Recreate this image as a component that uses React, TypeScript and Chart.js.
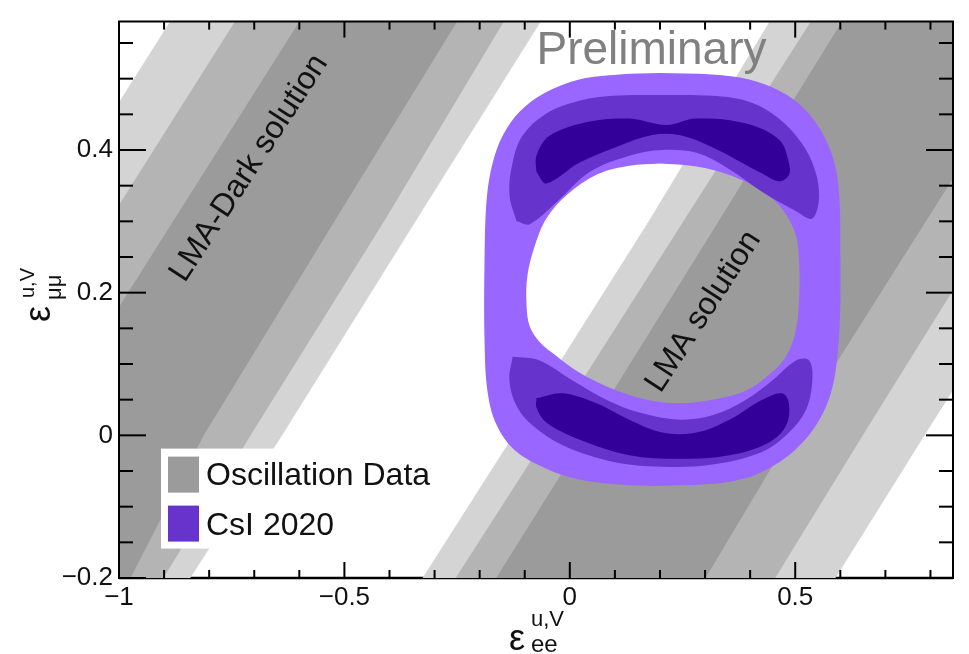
import React, { useEffect, useRef } from "react";
import { Chart, registerables } from "chart.js";

Chart.register(...registerables);

const FONT = "'Liberation Sans', Arial, Helvetica, sans-serif";

// ---------- axes ----------
const xMin = -1;
const xMax = 0.85;
const yMin = -0.2;
const yMax = 0.58;
const xMajorTicks = [-1, -0.5, 0, 0.5];
const xTickLabels = ["\u22121", "\u22120.5", "0", "0.5"];
const xMinorTicks = [-0.9, -0.8, -0.7, -0.6, -0.4, -0.3, -0.2, -0.1, 0.1, 0.2, 0.3, 0.4, 0.6, 0.7, 0.8];
const yMajorTicks = [-0.2, 0, 0.2, 0.4];
const yTickLabels = ["\u22120.2", "0", "0.2", "0.4"];
const yMinorTicks = [-0.15, -0.1, -0.05, 0.05, 0.1, 0.15, 0.25, 0.3, 0.35, 0.45, 0.5, 0.55];

// ---------- oscillation data: band edges [eps_ee, eps_mumu], bottom -> top ----------
// LMA-Dark solution
const darkOuterL = [[-1.717, -0.25], [-1.467, 0], [-1.167, 0.3], [-0.817, 0.65]];
const darkMidL = [[-1.573, -0.25], [-1.323, 0], [-1.023, 0.3], [-0.673, 0.65]];
const darkInnerL = [[-1.43, -0.25], [-1.18, 0], [-0.88, 0.3], [-0.53, 0.65]];
const darkInnerR = [[-1.015, -0.25], [-0.812, 0], [-0.522, 0.3], [-0.182, 0.65]];
const darkMidR = [[-0.95, -0.25], [-0.708, 0], [-0.412, 0.3], [-0.08, 0.65]];
const darkOuterR = [[-0.893, -0.25], [-0.638, 0], [-0.342, 0.3], [0.005, 0.65]];
// LMA solution
const lmaOuterL = [[-0.377, -0.25], [-0.125, 0], [0.175, 0.3], [0.51, 0.65]];
const lmaMidL = [[-0.304, -0.25], [-0.05, 0], [0.252, 0.3], [0.605, 0.65]];
const lmaInnerL = [[-0.213, -0.25], [0.035, 0], [0.33, 0.3], [0.672, 0.65]];
const lmaInnerR = [[0.254, -0.25], [0.49, 0], [0.79, 0.3], [1.14, 0.65]];
const lmaMidR = [[0.407, -0.25], [0.65, 0], [0.945, 0.3], [1.295, 0.65]];
const lmaOuterR = [[0.54, -0.25], [0.787, 0], [1.086, 0.3], [1.436, 0.65]];

// ---------- CsI 2020 contours ----------
const csiOuterEdge = [
  [0.199, 0.508], [0.316, 0.506], [0.398, 0.499], [0.465, 0.483], [0.52, 0.458], [0.56, 0.424],
  [0.587, 0.382], [0.598, 0.334], [0.6, 0.265], [0.6, 0.183], [0.595, 0.121], [0.582, 0.066],
  [0.553, 0.021], [0.502, -0.019], [0.427, -0.051], [0.354, -0.065], [0.243, -0.07], [0.132, -0.07],
  [0.021, -0.062], [-0.052, -0.047], [-0.122, -0.021], [-0.162, 0.014], [-0.182, 0.059], [-0.189, 0.128],
  [-0.189, 0.252], [-0.184, 0.334], [-0.171, 0.382], [-0.149, 0.42], [-0.111, 0.454], [-0.056, 0.48],
  [0.021, 0.499], [0.11, 0.506],
];
const csiHoleEdge = [
  [0.199, 0.381], [0.132, 0.378], [0.061, 0.366], [-0.005, 0.338], [-0.052, 0.304], [-0.078, 0.265],
  [-0.094, 0.224], [-0.096, 0.183], [-0.089, 0.153], [-0.067, 0.131], [-0.029, 0.111], [0.021, 0.088],
  [0.095, 0.065], [0.17, 0.05], [0.243, 0.045], [0.316, 0.05], [0.391, 0.063], [0.442, 0.085],
  [0.48, 0.111], [0.502, 0.149], [0.509, 0.197], [0.509, 0.238], [0.502, 0.279], [0.475, 0.314],
  [0.431, 0.341], [0.354, 0.365], [0.281, 0.377],
];
const csiMidTop = [
  [-0.118, 0.3], [-0.134, 0.337], [-0.127, 0.382], [-0.105, 0.42], [-0.052, 0.451], [0.021, 0.469],
  [0.095, 0.476], [0.205, 0.477], [0.316, 0.476], [0.391, 0.469], [0.449, 0.451], [0.502, 0.42],
  [0.538, 0.382], [0.553, 0.337], [0.538, 0.304], [0.502, 0.314], [0.427, 0.341], [0.354, 0.373],
  [0.281, 0.396], [0.205, 0.4], [0.132, 0.392], [0.044, 0.369], [-0.029, 0.327], [-0.089, 0.296],
];
const csiCoreTop = [
  [-0.074, 0.369], [-0.074, 0.392], [-0.045, 0.42], [0.044, 0.44], [0.132, 0.444], [0.214, 0.435],
  [0.281, 0.444], [0.391, 0.437], [0.465, 0.414], [0.486, 0.382], [0.486, 0.365], [0.465, 0.356],
  [0.427, 0.367], [0.316, 0.404], [0.243, 0.421], [0.183, 0.421], [0.11, 0.406], [0.021, 0.382],
  [-0.052, 0.353],
];
const csiMidBottom = [
  [-0.127, 0.11], [-0.067, 0.105], [0.006, 0.077], [0.081, 0.05], [0.154, 0.032], [0.243, 0.022],
  [0.316, 0.028], [0.391, 0.05], [0.449, 0.077], [0.502, 0.105], [0.531, 0.105], [0.538, 0.077],
  [0.524, 0.036], [0.486, 0.004], [0.427, -0.023], [0.316, -0.041], [0.205, -0.044], [0.095, -0.037],
  [-0.016, -0.014], [-0.083, 0.014], [-0.118, 0.041], [-0.134, 0.077],
];
const csiCoreBottom = [
  [-0.074, 0.052], [-0.016, 0.059], [0.059, 0.045], [0.132, 0.022], [0.205, 0.004], [0.281, 0.004],
  [0.354, 0.022], [0.427, 0.05], [0.471, 0.059], [0.486, 0.045], [0.48, 0.014], [0.442, -0.01],
  [0.354, -0.028], [0.243, -0.033], [0.132, -0.028], [0.021, -0.006], [-0.052, 0.018], [-0.074, 0.039],
];

// ---------- labels ----------
const legendLabels = ["Oscillation Data", "CsI 2020"];
const annotations = [
  { text: "Preliminary", x: -0.074, y: 0.52, angle: 0, size: 46, color: "#808080" },
  { text: "LMA-Dark solution", x: -0.854, y: 0.213, angle: 57, size: 32, color: "#111111" },
  { text: "LMA solution", x: 0.201, y: 0.058, angle: 57, size: 32, color: "#111111" },
];

// ---------- styles ----------
const oscLight = "#d4d4d4";
const oscMid = "#b4b4b4";
const oscDark = "#9b9b9b";
const csiLight = "#9966ff";
const csiMid = "#6633cc";
const csiDark = "#330099";

type P = number[][];
const toPts = (a: P) => a.map(([x, y]) => ({ x, y }));
const band = (l: P, r: P) => toPts([...l, ...r.slice().reverse()]);
// outer edge and hole edge joined by a zero-width cut, so the hole stays open
const ring = (o: P, h: P) => toPts([...o, o[0], o[0], h[0], ...h, h[0]]);
const closed = (c: P) => toPts([...c, c[0]]);

const layers = [
  { label: "Oscillation Data", data: band(darkOuterL, darkOuterR), color: oscLight, tension: 0 },
  { label: "Oscillation Data", data: band(darkMidL, darkMidR), color: oscMid, tension: 0 },
  { label: "Oscillation Data", data: band(darkInnerL, darkInnerR), color: oscDark, tension: 0 },
  { label: "Oscillation Data", data: band(lmaOuterL, lmaOuterR), color: oscLight, tension: 0 },
  { label: "Oscillation Data", data: band(lmaMidL, lmaMidR), color: oscMid, tension: 0 },
  { label: "Oscillation Data", data: band(lmaInnerL, lmaInnerR), color: oscDark, tension: 0 },
  { label: "CsI 2020", data: ring(csiOuterEdge, csiHoleEdge), color: csiLight, tension: 0.35 },
  { label: "CsI 2020", data: closed(csiMidTop), color: csiMid, tension: 0.35 },
  { label: "CsI 2020", data: closed(csiMidBottom), color: csiMid, tension: 0.35 },
  { label: "CsI 2020", data: closed(csiCoreTop), color: csiDark, tension: 0.35 },
  { label: "CsI 2020", data: closed(csiCoreBottom), color: csiDark, tension: 0.35 },
];

const decorPlugin = {
  id: "rootDecor",
  beforeDatasetsDraw(chart: any) {
    const { ctx, chartArea: a } = chart;
    ctx.save();
    ctx.strokeStyle = "#000";
    ctx.lineWidth = 2.4;
    ctx.beginPath();
    ctx.moveTo(a.left, a.bottom);
    ctx.lineTo(a.right, a.bottom);
    ctx.stroke();
    ctx.restore();
  },
  afterDatasetsDraw(chart: any) {
    const { ctx, chartArea: a } = chart;
    const xs = chart.scales.x;
    const ys = chart.scales.y;
    ctx.save();

    // annotations
    for (const t of annotations) {
      const px = xs.getPixelForValue(t.x);
      const py = ys.getPixelForValue(t.y);
      ctx.save();
      ctx.translate(px, py);
      ctx.rotate((-t.angle * Math.PI) / 180);
      ctx.font = `${t.size}px ${FONT}`;
      ctx.fillStyle = t.color;
      ctx.textAlign = "left";
      ctx.textBaseline = "alphabetic";
      ctx.fillText(t.text, 0, 0);
      ctx.restore();
    }

    // frame
    ctx.strokeStyle = "#000";
    ctx.lineWidth = 2;
    ctx.lineCap = "butt";
    ctx.beginPath();
    ctx.moveTo(a.left, a.bottom + 1);
    ctx.lineTo(a.left, a.top);
    ctx.lineTo(a.right, a.top);
    ctx.lineTo(a.right, a.bottom + 1);
    ctx.stroke();

    // ticks (inside the frame, on all four sides)
    const line = (x0: number, y0: number, x1: number, y1: number) => {
      ctx.beginPath();
      ctx.moveTo(x0, y0);
      ctx.lineTo(x1, y1);
      ctx.stroke();
    };
    ctx.lineWidth = 2;
    for (const v of xMajorTicks) {
      const p = xs.getPixelForValue(v);
      line(p, a.bottom, p, a.bottom - 16);
      line(p, a.top, p, a.top + 16);
    }
    for (const v of xMinorTicks) {
      const p = xs.getPixelForValue(v);
      line(p, a.bottom, p, a.bottom - 8);
      line(p, a.top, p, a.top + 8);
    }
    for (const v of yMajorTicks) {
      const p = ys.getPixelForValue(v);
      line(a.left, p, a.left + 27, p);
      line(a.right, p, a.right - 27, p);
    }
    for (const v of yMinorTicks) {
      const p = ys.getPixelForValue(v);
      line(a.left, p, a.left + 14, p);
      line(a.right, p, a.right - 14, p);
    }

    // legend
    const lx = a.left + 42;
    const ly = a.top + 427;
    ctx.fillStyle = "#ffffff";
    ctx.fillRect(lx, ly, 278, 100);
    const swatches = [oscDark, csiMid];
    ctx.font = `32px ${FONT}`;
    ctx.textAlign = "left";
    ctx.textBaseline = "alphabetic";
    swatches.forEach((c, i) => {
      ctx.fillStyle = c;
      ctx.fillRect(lx + 7, ly + 8 + i * 49, 31, 36);
      ctx.fillStyle = "#111";
      ctx.fillText(legendLabels[i], lx + 45, ly + 36 + i * 50);
    });

    ctx.restore();
  },
  afterDraw(chart: any) {
    const { ctx } = chart;
    ctx.save();
    ctx.fillStyle = "#111";
    ctx.textAlign = "left";
    ctx.textBaseline = "alphabetic";
    // x-axis title: eps^{u,V}_{ee}
    ctx.font = `36px ${FONT}`;
    ctx.fillText("\u03b5", 509, 650);
    ctx.font = `22px ${FONT}`;
    ctx.fillText("u,V", 531, 626);
    ctx.font = `24px ${FONT}`;
    ctx.fillText("ee", 531, 652);
    // y-axis title: eps^{u,V}_{mumu}
    ctx.translate(50, 322);
    ctx.rotate(-Math.PI / 2);
    ctx.font = `36px ${FONT}`;
    ctx.fillText("\u03b5", 0, 0);
    ctx.font = `20px ${FONT}`;
    ctx.fillText("u,V", 24, -16);
    ctx.font = `22px ${FONT}`;
    ctx.fillText("\u03bc\u03bc", 22, 11);
    ctx.restore();
  },
};

export default function App() {
  const ref = useRef<HTMLCanvasElement>(null);
  useEffect(() => {
    const n = layers.length;
    const chart = new Chart(ref.current as HTMLCanvasElement, {
      type: "scatter",
      data: {
        datasets: layers.map((l, i) => ({
          label: l.label,
          data: l.data,
          showLine: true,
          fill: "shape",
          backgroundColor: l.color,
          borderColor: l.color,
          borderWidth: 0,
          pointRadius: 0,
          pointHoverRadius: 0,
          tension: l.tension,
          order: n - i,
        })),
      } as any,
      options: {
        animation: false,
        responsive: true,
        maintainAspectRatio: false,
        events: [],
        layout: { padding: { left: 0, right: 16, top: 10, bottom: 0 } },
        plugins: {
          legend: { display: false },
          tooltip: { enabled: false },
        },
        scales: {
          x: {
            type: "linear",
            min: xMin,
            max: xMax,
            grid: { display: false, drawTicks: false },
            border: { display: false },
            afterBuildTicks: (s: any) => {
              s.ticks = xMajorTicks.map((v) => ({ value: v }));
            },
            afterFit: (s: any) => {
              s.height = 76;
            },
            ticks: {
              padding: 4,
              maxRotation: 0,
              autoSkip: false,
              color: "#111",
              font: { family: FONT, size: 26 },
              callback: (v: any) => xTickLabels[xMajorTicks.indexOf(Number(v))],
            },
          },
          y: {
            type: "linear",
            min: yMin,
            max: yMax,
            grid: { display: false, drawTicks: false },
            border: { display: false },
            afterBuildTicks: (s: any) => {
              s.ticks = yMajorTicks.map((v) => ({ value: v }));
            },
            afterFit: (s: any) => {
              s.width = 119;
            },
            ticks: {
              padding: 6,
              autoSkip: false,
              color: "#111",
              font: { family: FONT, size: 26 },
              callback: (v: any) => yTickLabels[yMajorTicks.indexOf(Number(v))],
            },
          },
        },
      } as any,
      plugins: [decorPlugin],
    });
    return () => chart.destroy();
  }, []);
  return (
    <div style={{ position: "absolute", left: 0, top: 0, width: 969, height: 654, background: "#fff" }}>
      <canvas ref={ref} />
    </div>
  );
}
